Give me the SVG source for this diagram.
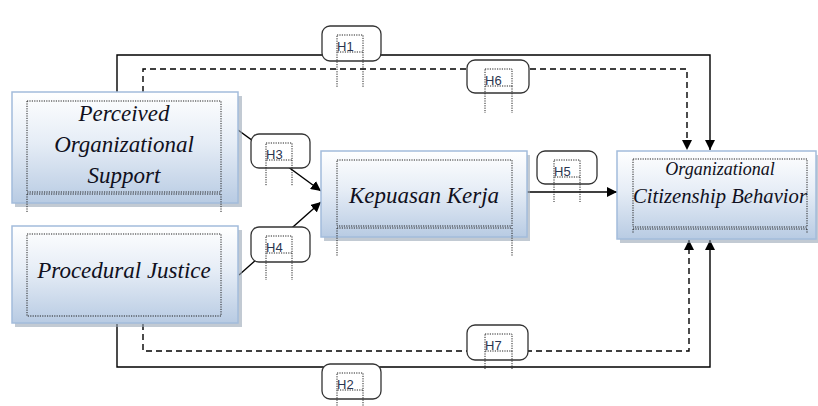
<svg xmlns="http://www.w3.org/2000/svg" width="818" height="406" viewBox="0 0 818 406">
<defs>
<linearGradient id="g" x1="0" y1="0" x2="0" y2="1">
<stop offset="0" stop-color="#ffffff"/>
<stop offset="0.45" stop-color="#e6edf6"/>
<stop offset="1" stop-color="#b8cbe3"/>
</linearGradient>
<marker id="ah" viewBox="0 0 10 10" refX="10" refY="5" markerWidth="10" markerHeight="10" markerUnits="userSpaceOnUse" orient="auto">
<path d="M0,0 L10,5 L0,10 Z" fill="#000"/>
</marker>
</defs>
<style>
.box{fill:url(#g);stroke:#a3bcdb;stroke-width:1.5}
.shd{fill:#9aa6b6;opacity:0.6}
.dot{fill:none;stroke:#222;stroke-width:1;stroke-dasharray:1.2 1.2}
.nt{font-family:"Liberation Serif",serif;font-style:italic;fill:#101020;text-anchor:middle}
.ln{fill:none;stroke:#000;stroke-width:1.4}
.dl{fill:none;stroke:#000;stroke-width:1.4;stroke-dasharray:6 4}
.hb{fill:#fff;stroke:#333;stroke-width:1.3}
.ht{font-family:"Liberation Sans",sans-serif;font-size:13px;fill:#2a3550}
</style>
<rect width="818" height="406" fill="#fff"/>
<g id="connectors">
<polyline class="ln" points="117,92 117,55 710,55 710,150" marker-end="url(#ah)"/>
<polyline class="dl" points="143,92 143,69 687,69 687,150" marker-end="url(#ah)"/>
<polyline class="ln" points="117,324 117,367 710,367 710,240" marker-end="url(#ah)"/>
<polyline class="dl" points="143,324 143,351 689,351 689,240" marker-end="url(#ah)"/>
<line class="ln" x1="238" y1="130" x2="321" y2="191" marker-end="url(#ah)"/>
<line class="ln" x1="239" y1="275" x2="321" y2="202" marker-end="url(#ah)"/>
<line class="ln" x1="527" y1="192" x2="617" y2="192" marker-end="url(#ah)"/>
<g id="H1"><rect class="hb" x="322" y="26" width="59" height="35" rx="8"/><rect class="dot" x="337" y="35" width="26" height="17"/><path class="dot" d="M337,52 V87 M363,52 V87"/><text class="ht" x="337" y="51">H1</text></g>
<g id="H6"><rect class="hb" x="467" y="60" width="62" height="33" rx="8"/><rect class="dot" x="485" y="69" width="27" height="17"/><path class="dot" d="M485,86 V113 M512,86 V113"/><text class="ht" x="485" y="85">H6</text></g>
<g id="H3"><rect class="hb" x="251" y="134" width="59" height="34" rx="8"/><rect class="dot" x="266" y="143" width="26" height="17"/><path class="dot" d="M266,160 V186 M292,160 V186"/><text class="ht" x="266" y="159">H3</text></g>
<g id="H4"><rect class="hb" x="251" y="227" width="59" height="35" rx="8"/><rect class="dot" x="266" y="236" width="26" height="17"/><path class="dot" d="M266,253 V280 M292,253 V280"/><text class="ht" x="266" y="252">H4</text></g>
<g id="H5"><rect class="hb" x="537" y="151" width="60" height="33" rx="8"/><rect class="dot" x="554" y="160" width="26" height="17"/><path class="dot" d="M554,177 V202 M580,177 V202"/><text class="ht" x="554" y="176">H5</text></g>
<g id="H7"><rect class="hb" x="467" y="325" width="61" height="35" rx="8"/><rect class="dot" x="485" y="334" width="27" height="17"/><path class="dot" d="M485,351 V370 M512,351 V370"/><text class="ht" x="485" y="350">H7</text></g>
<g id="H2"><rect class="hb" x="322" y="364" width="59" height="35" rx="8"/><rect class="dot" x="337" y="373" width="26" height="17"/><path class="dot" d="M337,390 V406 M363,390 V406"/><text class="ht" x="337" y="389">H2</text></g>
</g>
<g id="pos">
<rect class="shd" x="15" y="96" width="227" height="111"/>
<rect class="box" x="12" y="92" width="226" height="111"/>
<rect class="dot" x="27" y="101" width="194" height="91"/>
<path class="dot" d="M27,194 H221 M27,194 V212 M221,194 V212"/>
<text class="nt" font-size="23" x="124" y="121">Perceived</text>
<text class="nt" font-size="23" x="124" y="152">Organizational</text>
<text class="nt" font-size="23" x="124" y="183">Support</text>
</g>
<g id="pj">
<rect class="shd" x="15" y="230" width="227" height="97"/>
<rect class="box" x="12" y="226" width="226" height="97"/>
<rect class="dot" x="27" y="234" width="194" height="82"/>
<text class="nt" font-size="23" x="124" y="278">Procedural Justice</text>
</g>
<g id="kk">
<rect class="shd" x="324" y="155" width="206" height="86"/>
<rect class="box" x="321" y="151" width="206" height="86"/>
<rect class="dot" x="337" y="160" width="175" height="66"/>
<path class="dot" d="M337,228 H512 M337,228 V256 M512,228 V256"/>
<text class="nt" font-size="23" x="424" y="203">Kepuasan Kerja</text>
</g>
<g id="ocb">
<rect class="shd" x="620" y="155" width="198" height="88"/>
<rect class="box" x="617" y="151" width="199" height="88"/>
<rect class="dot" x="633" y="159" width="174" height="68"/>
<path class="dot" d="M633,229 H807 M633,229 V233 M807,229 V233"/>
<text class="nt" font-size="18" x="720" y="175">Organizational</text>
<text class="nt" font-size="21" x="720" y="203" textLength="174" lengthAdjust="spacingAndGlyphs">Citizenship Behavior</text>
</g>
</svg>
